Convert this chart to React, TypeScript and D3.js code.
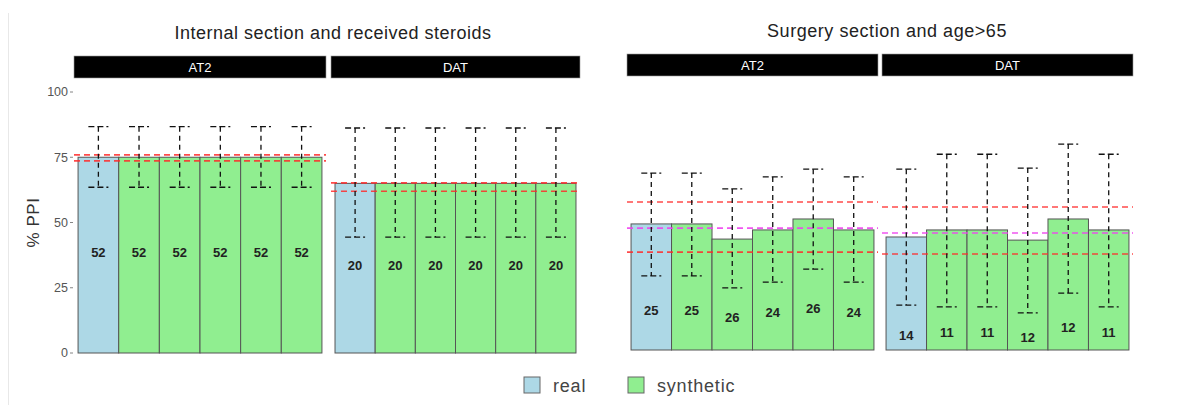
import React from "react";
import * as d3 from "d3";

// categories: first bar is the real data, the rest are synthetic runs
const barKinds = ["real", "synthetic", "synthetic", "synthetic", "synthetic", "synthetic"];
const barIds = ["r", "s1", "s2", "s3", "s4", "s5"];
const yTicks = [0, 25, 50, 75, 100];

// Internal section and received steroids — AT2
const intAT2Values = [75, 75, 75, 75, 75, 75];
const intAT2High = [86.7, 86.7, 86.7, 86.7, 86.7, 86.7];
const intAT2Low = [63.5, 63.5, 63.5, 63.5, 63.5, 63.5];
const intAT2N = [52, 52, 52, 52, 52, 52];
const intAT2LabelAt = [38.7, 38.7, 38.7, 38.7, 38.7, 38.7];
const intAT2Red = [75.9, 73.6];

// Internal section and received steroids — DAT
const intDATValues = [65, 65, 65, 65, 65, 65];
const intDATHigh = [86.2, 86.2, 86.2, 86.2, 86.2, 86.2];
const intDATLow = [44.4, 44.4, 44.4, 44.4, 44.4, 44.4];
const intDATN = [20, 20, 20, 20, 20, 20];
const intDATLabelAt = [33.7, 33.7, 33.7, 33.7, 33.7, 33.7];
const intDATRed = [65.2, 62];

// Surgery section and age>65 — AT2
const surAT2Values = [48.3, 48.3, 42.5, 46, 50.2, 46];
const surAT2High = [67.8, 67.8, 61.7, 66.3, 69.3, 66.3];
const surAT2Low = [28.4, 28.4, 23.8, 26, 31, 26];
const surAT2N = [25, 25, 26, 24, 26, 24];
const surAT2LabelAt = [15.3, 15.3, 12.3, 14.2, 16.1, 14.2];
const surAT2Red = [56.7, 37.5];
const surAT2Mean = [46.7];

// Surgery section and age>65 — DAT
const surDATValues = [43.3, 46, 46, 42.1, 50.2, 46];
const surDATHigh = [69.3, 75, 75, 69.7, 78.9, 75];
const surDATLow = [17.2, 16.5, 16.5, 14.2, 21.8, 16.5];
const surDATN = [14, 11, 11, 12, 12, 11];
const surDATLabelAt = [5.4, 6.9, 6.9, 5.0, 8.8, 6.9];
const surDATRed = [54.8, 36.8];
const surDATMean = [44.8];

const colours = { real: "#add8e6", synthetic: "#90ee90" };
const font = "'Liberation Sans', Arial, sans-serif";

type PanelProps = {
  name: string;
  x0: number;
  x1: number;
  y: d3.ScaleLinear<number, number>;
  stripTop: number;
  values: number[];
  high: number[];
  low: number[];
  n: number[];
  labelAt: number[];
  red: number[];
  mean?: number[];
};

const Panel = ({ name, x0, x1, y, stripTop, values, high, low, n, labelAt, red, mean = [] }: PanelProps) => {
  const x = d3.scaleBand<string>().domain(barIds).range([x0, x1]).paddingInner(0).paddingOuter(0.1);
  const bw = x.bandwidth();
  return (
    <g>
      <rect x={x0} y={stripTop} width={x1 - x0} height={22} fill="#000" stroke="#999" strokeWidth={0.6} />
      <text x={(x0 + x1) / 2} y={stripTop + 15.5} textAnchor="middle" fill="#fff" fontSize={13} fontFamily={font}>
        {name}
      </text>
      {values.map((v, i) => (
        <rect
          key={barIds[i]}
          x={x(barIds[i])}
          y={y(v)}
          width={bw}
          height={y(0) - y(v)}
          fill={colours[barKinds[i]]}
          stroke="#555"
          strokeWidth={1}
        />
      ))}
      {red.map((r, i) => (
        <line key={"red" + i} x1={x0} x2={x1} y1={y(r)} y2={y(r)} stroke="#ff2a2a" strokeOpacity={0.85} strokeWidth={1.6} strokeDasharray="6,4" />
      ))}
      {mean.map((m, i) => (
        <line key={"mean" + i} x1={x0} x2={x1} y1={y(m)} y2={y(m)} stroke="#ee44ee" strokeOpacity={0.9} strokeWidth={1.6} strokeDasharray="6,4" />
      ))}
      {values.map((v, i) => {
        const cx = (x(barIds[i]) as number) + bw / 2;
        return (
          <g key={"err" + i} stroke="#111" strokeWidth={1.3} fill="none">
            <line x1={cx} x2={cx} y1={y(high[i])} y2={y(low[i])} strokeDasharray="5,4" />
            <line x1={cx - 10} x2={cx + 10} y1={y(high[i])} y2={y(high[i])} strokeDasharray="6,3" />
            <line x1={cx - 10} x2={cx + 10} y1={y(low[i])} y2={y(low[i])} strokeDasharray="6,3" />
          </g>
        );
      })}
      {n.map((c, i) => (
        <text
          key={"n" + i}
          x={(x(barIds[i]) as number) + bw / 2}
          y={y(labelAt[i])}
          dy="0.35em"
          textAnchor="middle"
          fontSize={13}
          fontWeight="bold"
          fill="#222"
          fontFamily={font}
        >
          {c}
        </text>
      ))}
    </g>
  );
};

export default function App() {
  const yLeft = d3.scaleLinear().domain([0, 100]).range([353, 92]);
  const yRight = d3.scaleLinear().domain([0, 100]).range([350, 89]);

  return (
    <svg width={1195} height={405} style={{ position: "absolute", left: 0, top: 0, background: "#fff" }}>
      <line x1={8.5} x2={8.5} y1={13} y2={405} stroke="#e8e8e8" strokeWidth={1} />

      <text x={333} y={39} textAnchor="middle" fontSize={18} letterSpacing={0.5} fill="#222" fontFamily={font}>
        Internal section and received steroids
      </text>
      <text x={887} y={37} textAnchor="middle" fontSize={18} letterSpacing={0.55} fill="#222" fontFamily={font}>
        Surgery section and age&gt;65
      </text>

      <Panel name="AT2" x0={74} x1={326} y={yLeft} stripTop={56} values={intAT2Values} high={intAT2High} low={intAT2Low} n={intAT2N} labelAt={intAT2LabelAt} red={intAT2Red} />
      <Panel name="DAT" x0={331} x1={580} y={yLeft} stripTop={56} values={intDATValues} high={intDATHigh} low={intDATLow} n={intDATN} labelAt={intDATLabelAt} red={intDATRed} />
      <Panel name="AT2" x0={627} x1={878} y={yRight} stripTop={54} values={surAT2Values} high={surAT2High} low={surAT2Low} n={surAT2N} labelAt={surAT2LabelAt} red={surAT2Red} mean={surAT2Mean} />
      <Panel name="DAT" x0={882} x1={1133} y={yRight} stripTop={54} values={surDATValues} high={surDATHigh} low={surDATLow} n={surDATN} labelAt={surDATLabelAt} red={surDATRed} mean={surDATMean} />

      {yTicks.map((t) => (
        <g key={t}>
          <line x1={70} x2={73} y1={yLeft(t)} y2={yLeft(t)} stroke="#666" strokeWidth={0.8} />
          <text x={68} y={yLeft(t)} dy="0.35em" textAnchor="end" fontSize={12.5} fill="#555" fontFamily={font}>
            {t}
          </text>
        </g>
      ))}
      <text transform={`translate(39,${yLeft(50)}) rotate(-90)`} textAnchor="middle" fontSize={17} letterSpacing={0.5} fill="#333" fontFamily={font}>
        % PPI
      </text>

      {["real", "synthetic"].map((k, i) => (
        <g key={k} transform={`translate(${i === 0 ? 524 : 628},377)`}>
          <rect width={16} height={16} fill={colours[k]} stroke="#666" strokeWidth={1} />
          <text x={29} y={14.5} fontSize={18} letterSpacing={0.8} fill="#444" fontFamily={font}>
            {k}
          </text>
        </g>
      ))}
    </svg>
  );
}
